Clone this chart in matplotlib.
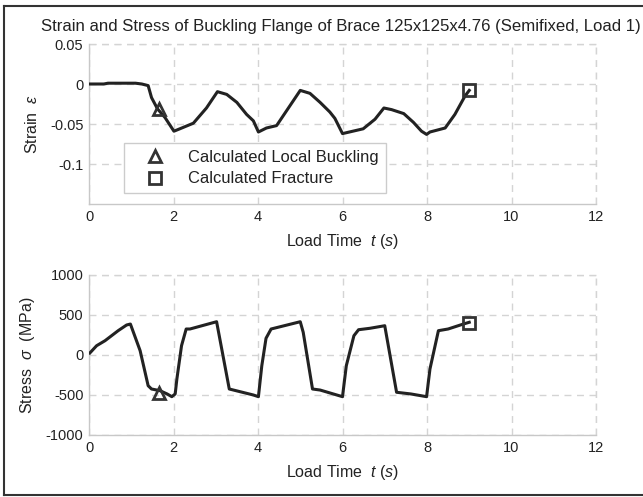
import matplotlib
matplotlib.use("Agg")
import matplotlib.pyplot as plt
from matplotlib.lines import Line2D

plt.rcParams['font.family'] = ['Liberation Sans', 'DejaVu Sans']
plt.rcParams['mathtext.fontset'] = 'custom'
plt.rcParams['mathtext.rm'] = 'Liberation Sans'
plt.rcParams['mathtext.it'] = 'Liberation Sans:italic'
plt.rcParams['axes.unicode_minus'] = False

# ---------------- data ----------------
title = "Strain and Stress of Buckling Flange of Brace 125x125x4.76 (Semifixed, Load 1)"

t_strain = [0, 0.35, 0.45, 1.1, 1.25, 1.40, 1.48, 1.62, 1.80, 2.01, 2.15, 2.47, 2.78,
            3.04, 3.26, 3.50, 3.73, 3.89, 4.01, 4.20, 4.44, 4.72, 5.00, 5.23, 5.47,
            5.70, 5.82, 6.00, 6.49, 6.77, 6.98, 7.16, 7.45, 7.68, 7.87, 7.99, 8.07,
            8.43, 8.66, 8.90, 9.00]
strain = [0, 0, 0.001, 0.001, 0, -0.002, -0.017, -0.031, -0.042, -0.059, -0.056,
          -0.049, -0.030, -0.0096, -0.013, -0.023, -0.038, -0.046, -0.060, -0.055,
          -0.052, -0.030, -0.008, -0.0117, -0.023, -0.035, -0.043, -0.062, -0.056,
          -0.044, -0.030, -0.032, -0.037, -0.048, -0.059, -0.063, -0.060, -0.055,
          -0.038, -0.015, -0.008]

t_stress = [0.02, 0.18, 0.38, 0.69, 0.89, 0.98, 1.21, 1.40, 1.48, 1.68, 1.85, 1.96,
            2.04, 2.08, 2.19, 2.30, 2.39, 3.02, 3.32, 3.89, 4.01, 4.09, 4.19, 4.31,
            5.00, 5.07, 5.29, 5.47, 6.00, 6.09, 6.27, 6.38, 6.65, 7.00, 7.28, 7.62,
            7.99, 8.07, 8.27, 8.50, 8.86, 9.00]
stress = [25, 116, 179, 304, 375, 387, 54, -384, -425, -446, -487, -521, -487, -300,
          116, 325, 325, 416, -425, -500, -521, -134, 209, 325, 416, 284, -425, -438,
          -521, -134, 241, 316, 334, 366, -466, -487, -521, -175, 304, 325, 387, 409]

buckling_t = [1.65]
buckling_strain = [-0.031]
buckling_stress = [-470]
fracture_t = [9.0]
fracture_strain = [-0.008]
fracture_stress = [400]

legend_labels = ["Calculated Local Buckling", "Calculated Fracture"]

x_ticks = [0, 2, 4, 6, 8, 10, 12]
strain_ticks = [0.05, 0, -0.05, -0.1]
strain_ticklabels = ["0.05", "0", "-0.05", "-0.1"]
stress_ticks = [1000, 500, 0, -500, -1000]
stress_ticklabels = ["1000", "500", "0", "-500", "-1000"]

# ---------------- figure ----------------
W, H = 643, 497
fig = plt.figure(figsize=(W / 100, H / 100), dpi=100)

def fx(px):
    return px / W

def fy(py):
    return 1 - py / H

line_col = '#222222'
grid_col = '#d4d4d4'
spine_col = '#c8c8c8'
mk_col = '#333333'

ax1 = fig.add_axes([fx(89), fy(204), fx(596) - fx(89), fy(44) - fy(204)])
ax2 = fig.add_axes([fx(89), fy(435), fx(596) - fx(89), fy(275) - fy(435)])

def style(ax):
    ax.set_xlim(0, 12)
    ax.set_xticks(x_ticks)
    ax.set_xticklabels([str(v) for v in x_ticks])
    for s in ['top', 'right']:
        ax.spines[s].set_visible(False)
    for s in ['left', 'bottom']:
        ax.spines[s].set_color(spine_col)
        ax.spines[s].set_linewidth(1.0)
    ax.tick_params(length=0, labelsize=10.5, colors='#222222', pad=4)
    ax.grid(True, color=grid_col, linestyle=(0, (5, 4)), linewidth=1.0)
    ax.set_axisbelow(True)
    ax.set_xlabel(r"Load Time  $t$ $(s)$", fontsize=11.5, color='#222222')
    ax.xaxis.set_label_coords(0.5, -0.175)

style(ax1)
style(ax2)

ax1.set_ylim(-0.15, 0.05)
ax1.set_yticks(strain_ticks)
ax1.set_yticklabels(strain_ticklabels)
ax1.set_ylabel(r"Strain  $\varepsilon$", fontsize=11.5, color='#222222')
ax1.yaxis.set_label_coords(-0.097, 0.5)

ax2.set_ylim(-1000, 1000)
ax2.set_yticks(stress_ticks)
ax2.set_yticklabels(stress_ticklabels)
ax2.set_ylabel(r"Stress  $\sigma$  (MPa)", fontsize=11.5, color='#222222')
ax2.yaxis.set_label_coords(-0.102, 0.5)

# extra dashed gridline at the top and right limits
for ax in (ax1, ax2):
    ax.axhline(ax.get_ylim()[1], color=grid_col, linestyle=(0, (5, 4)), linewidth=1.0, zorder=0.5, clip_on=False)
    ax.axvline(12, color=grid_col, linestyle=(0, (5, 4)), linewidth=1.0, zorder=0.5, clip_on=False)

ax1.plot(t_strain, strain, color=line_col, lw=2.2, zorder=3)
ax2.plot(t_stress, stress, color=line_col, lw=2.2, zorder=3)

mk = dict(linestyle='none', markerfacecolor='none', markeredgecolor=mk_col,
          markeredgewidth=2.0, zorder=4)
ax1.plot(buckling_t, buckling_strain, marker='^', markersize=9, **mk)
ax1.plot(fracture_t, fracture_strain, marker='s', markersize=8, **mk)
ax2.plot(buckling_t, buckling_stress, marker='^', markersize=9, **mk)
ax2.plot(fracture_t, fracture_stress, marker='s', markersize=8, **mk)

handles = [Line2D([], [], marker='^', markersize=9, **mk),
           Line2D([], [], marker='s', markersize=8, **mk)]
leg = ax1.legend(handles, legend_labels, loc='lower left',
                 bbox_to_anchor=(fx(124 - 89) / fx(507), (204 - 193) / 160),
                 borderaxespad=0, fontsize=11.9, handlelength=3.0, handletextpad=0.5,
                 borderpad=0.4, labelspacing=0.4, fancybox=False, framealpha=1,
                 edgecolor='#cccccc')
leg.get_frame().set_linewidth(1.0)
for txt in leg.get_texts():
    txt.set_color('#222222')

fig.text(fx(340.5), fy(27), title, ha='center', va='center', fontsize=12.1, color='#222222')

# figure border (top, left, bottom)
bc = '#333333'
fig.add_artist(Line2D([fx(4), 1.0], [fy(6), fy(6)], color=bc, lw=1.5))
fig.add_artist(Line2D([fx(4), fx(4)], [fy(6), fy(495)], color=bc, lw=1.5))
fig.add_artist(Line2D([fx(4), 1.0], [fy(495), fy(495)], color=bc, lw=1.5))

fig.savefig("out.png", dpi=100)
